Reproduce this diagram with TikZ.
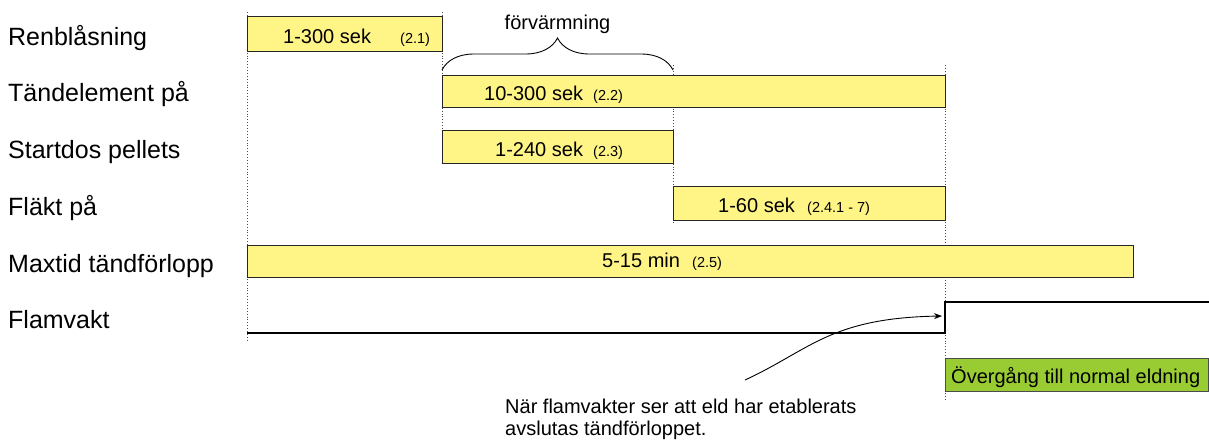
\documentclass[tikz,border=0pt]{standalone}
\usepackage{fontspec}
\setmainfont{Liberation Sans}
\usetikzlibrary{decorations.pathreplacing,arrows.meta}
\definecolor{baryellow}{RGB}{255,245,135}
\definecolor{bargreen}{RGB}{153,204,51}
\begin{document}
\begin{tikzpicture}[x=1pt,y=-1pt,
  bar/.style={draw=black!85,line width=0.9pt,fill=baryellow,inner sep=0pt,anchor=north west},
  greenbar/.style={draw=black!70,line width=0.9pt,fill=bargreen,inner sep=0pt,anchor=north west},
  rowlabel/.style={anchor=base west,inner sep=0pt,font=\fontsize{25}{30}\selectfont},
  bartext/.style={anchor=base west,inner sep=0pt,font=\fontsize{20}{24}\selectfont},
  reftext/.style={anchor=base west,inner sep=0pt,font=\fontsize{14.5}{17}\selectfont},
  guide/.style={black!70,line width=0.9pt,dotted},
  signal/.style={black,line width=1.5pt}]
\useasboundingbox (0,0) rectangle (1209,439);
% row labels
\node[rowlabel] (l1) at (8,45) {Renblåsning};
\node[rowlabel] (l2) at (8,101) {Tändelement på};
\node[rowlabel] (l3) at (8,158) {Startdos pellets};
\node[rowlabel] (l4) at (8,215) {Fläkt på};
\node[rowlabel] (l5) at (8,272) {Maxtid tändförlopp};
\node[rowlabel] (l6) at (8,328) {Flamvakt};
% guides
\coordinate (g1a) at (247,12); \coordinate (g1b) at (247,340);
\coordinate (g2a) at (442,12); \coordinate (g2b) at (442,165);
\coordinate (g3a) at (673,65); \coordinate (g3b) at (673,222);
\coordinate (g4a) at (945,65); \coordinate (g4b) at (945,400);
\draw[guide] (g1a) -- (g1b);
\draw[guide] (g2a) -- (g2b);
\draw[guide] (g3a) -- (g3b);
\draw[guide] (g4a) -- (g4b);
% bars
\node[bar,minimum width=195pt,minimum height=35pt] (b1) at (247,16) {};
\node[bar,minimum width=503pt,minimum height=32pt] (b2) at (442,75) {};
\node[bar,minimum width=231pt,minimum height=33pt] (b3) at (442,130) {};
\node[bar,minimum width=272pt,minimum height=34pt] (b4) at (673,186) {};
\node[bar,minimum width=886pt,minimum height=32pt] (b5) at (247,245) {};
\node[greenbar,minimum width=263pt,minimum height=33pt] (b6) at (945,358) {};
% bar texts
\node[bartext] (t1) at (283,43) {1-300 sek};
\node[reftext] (r1) at (400,43) {(2.1)};
\node[bartext] (t2) at (484,100) {10-300 sek};
\node[reftext] (r2) at (593,100) {(2.2)};
\node[bartext] (t3) at (495,156) {1-240 sek};
\node[reftext] (r3) at (593,156) {(2.3)};
\node[bartext] (t4) at (718,212) {1-60 sek};
\node[reftext] (r4) at (807,212) {(2.4.1 - 7)};
\node[bartext] (t5) at (602,267) {5-15 min};
\node[reftext] (r5) at (692,267) {(2.5)};
\node[bartext] (t6) at (951,383) {Övergång till normal eldning};
% brace
\coordinate (br1) at (442,70); \coordinate (br2) at (673,70);
\draw[line width=0.9pt,decorate,decoration={brace,amplitude=32pt}] (br1) -- (br2);
\node[bartext,anchor=base] (fv) at (557.5,29) {förvärmning};
% flamvakt signal
\coordinate (f0) at (247,333); \coordinate (f1) at (945,333);
\coordinate (f2) at (945,302); \coordinate (f3) at (1209,302);
\draw[signal] (f0) -- (f1) -- (f2) -- (f3);
% note and arrow
\node[bartext] (n1) at (505,413) {När flamvakter ser att eld har etablerats};
\node[bartext] (n2) at (505,435) {avslutas tändförloppet.};
\coordinate (a0) at (745,380); \coordinate (a1) at (942,316);
\draw[line width=0.9pt,-{Stealth[length=8pt,width=6pt]}] (a0) .. controls (810,350) and (830,318) .. (a1);
\end{tikzpicture}
\end{document}
